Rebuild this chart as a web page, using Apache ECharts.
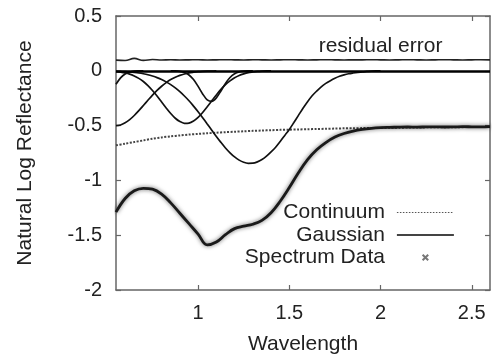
<!DOCTYPE html>
<html>
<head>
<meta charset="utf-8">
<script src="https://cdn.jsdelivr.net/npm/echarts@6/dist/echarts.min.js"></script>
<style>
  html, body { margin: 0; padding: 0; background: #fff; }
  #chart { width: 495px; height: 359px; }
</style>
</head>
<body>
<div id="chart"></div>
<script>
// coarse wavelength grid (spectrum, continuum, residual)
const wavelength = [0.55, 0.6, 0.65, 0.7, 0.75, 0.8, 0.85, 0.9, 0.95, 1.0, 1.05, 1.1, 1.15, 1.2,
  1.25, 1.3, 1.35, 1.4, 1.45, 1.5, 1.55, 1.6, 1.65, 1.7, 1.75, 1.8, 1.85, 1.9, 1.95, 2.0,
  2.05, 2.1, 2.15, 2.2, 2.25, 2.3, 2.35, 2.4, 2.45, 2.5, 2.55, 2.6];
const spectrum = [-1.29, -1.165, -1.095, -1.072, -1.08, -1.125, -1.205, -1.3, -1.395, -1.49,
  -1.588, -1.562, -1.495, -1.44, -1.418, -1.4, -1.365, -1.295, -1.19, -1.065, -0.93, -0.81,
  -0.72, -0.655, -0.605, -0.572, -0.55, -0.535, -0.525, -0.519, -0.516, -0.514, -0.513,
  -0.514, -0.512, -0.511, -0.513, -0.512, -0.51, -0.511, -0.512, -0.51];
const continuum = [-0.68, -0.665, -0.65, -0.635, -0.62, -0.608, -0.598, -0.59, -0.582, -0.576,
  -0.57, -0.565, -0.56, -0.556, -0.552, -0.548, -0.545, -0.542, -0.539, -0.537, -0.535, -0.533,
  -0.531, -0.529, -0.527, -0.525, -0.524, -0.523, -0.522, -0.521, -0.52, -0.519, -0.518,
  -0.517, -0.516, -0.515, -0.515, -0.514, -0.514, -0.513, -0.513, -0.512];
const residual = [0.097, 0.094, 0.113, 0.095, 0.103, 0.099, 0.101, 0.099, 0.1, 0.101, 0.099,
  0.1, 0.101, 0.1, 0.099, 0.101, 0.1, 0.099, 0.1, 0.101, 0.1, 0.099, 0.1, 0.101, 0.1, 0.099,
  0.1, 0.1, 0.101, 0.1, 0.099, 0.1, 0.101, 0.1, 0.099, 0.1, 0.101, 0.1, 0.099, 0.1, 0.101, 0.1];

// fine grid for the gaussian bands
const fineWl = [0.55, 0.575, 0.6, 0.625, 0.65, 0.675, 0.7, 0.725, 0.75, 0.775, 0.8, 0.825,
  0.85, 0.875, 0.9, 0.925, 0.95, 0.975, 1.0, 1.025, 1.05, 1.075, 1.1, 1.125, 1.15, 1.175,
  1.2, 1.225, 1.25, 1.275, 1.3, 1.325, 1.35, 1.375, 1.4, 1.425, 1.45, 1.475, 1.5, 1.525,
  1.55, 1.575, 1.6, 1.625, 1.65, 1.675, 1.7, 1.725, 1.75, 1.775, 1.8, 1.825, 1.85, 1.875,
  1.9, 1.925, 1.95, 1.975, 2.0];
const band0 = [-0.123, -0.065, -0.029, -0.011, -0.003, -0.001, 0];
const band1 = [-0.5, -0.494, -0.475, -0.446, -0.408, -0.364, -0.317, -0.269, -0.222, -0.179,
  -0.141, -0.108, -0.08, -0.059, -0.042, -0.029, -0.019, -0.013, -0.008, -0.005, -0.003,
  -0.002, 0];
const band2 = [-0.007, -0.012, -0.019, -0.03, -0.047, -0.069, -0.098, -0.135, -0.18, -0.23,
  -0.285, -0.339, -0.39, -0.433, -0.463, -0.479, -0.477, -0.458, -0.425, -0.38, -0.328,
  -0.274, -0.22, -0.17, -0.127, -0.092, -0.064, -0.043, -0.028, -0.017, -0.011, -0.006,
  -0.003, -0.001, 0];
const band3 = [-0.004, -0.006, -0.008, -0.011, -0.015, -0.02, -0.027, -0.036, -0.048, -0.062,
  -0.079, -0.101, -0.126, -0.156, -0.19, -0.23, -0.273, -0.322, -0.373, -0.428, -0.485,
  -0.542, -0.599, -0.653, -0.704, -0.748, -0.786, -0.815, -0.835, -0.844, -0.843, -0.831,
  -0.81, -0.779, -0.74, -0.697, -0.645, -0.59, -0.535, -0.472, -0.407, -0.342, -0.282,
  -0.228, -0.185, -0.146, -0.115, -0.09, -0.068, -0.05, -0.037, -0.027, -0.02, -0.014,
  -0.009, -0.006, -0.003, -0.001, 0];
const band4 = [0, -0.001, -0.005, -0.015, -0.038, -0.08, -0.142, -0.211, -0.265, -0.279,
  -0.247, -0.184, -0.115, -0.061, -0.027, -0.01, -0.003, -0.001, 0];
const band4Start = 12; // band4 begins at 0.85 on fineWl

const xTicks = [1, 1.5, 2, 2.5];

const font = "Liberation Sans";
const pairs = (xs, ys, off = 0) => ys.map((y, i) => [xs[i + off], y]);

const frameLine = { lineStyle: { color: "#666", width: 1.5 }, onZero: false };
const innerTick = { inside: true, length: 5, lineStyle: { color: "#666", width: 1.2 } };

const gaussSeries = [band0, band1, band2, band3, band4].map((band, k) => ({
  name: "Gaussian",
  type: "line",
  data: pairs(fineWl, band, k === 4 ? band4Start : 0),
  showSymbol: false,
  symbol: "none",
  smooth: 0.3,
  lineStyle: { color: "#111", width: 1.7 },
  markLine: k === 0 ? {
    silent: true,
    symbol: ["none", "none"],
    label: { show: false },
    lineStyle: { color: "#000", width: 2.6, type: "solid" },
    data: [{ yAxis: 0 }]
  } : undefined
}));

const myChart = echarts.init(document.getElementById("chart"));
myChart.setOption({
  animation: false,
  backgroundColor: "#fff",
  grid: { left: 116, right: 5, top: 16, bottom: 69, containLabel: false, outerBoundsMode: "none" },
  legend: {
    orient: "vertical",
    align: "right",
    right: 40,
    top: 202,
    padding: 0,
    itemGap: 1.5,
    itemWidth: 57,
    itemHeight: 7,
    selectedMode: false,
    textStyle: { fontFamily: font, fontSize: 21, color: "#222", padding: [0, 7, 0, 0] },
    data: [
      { name: "Continuum", itemStyle: { opacity: 0 }, lineStyle: { color: "#555", width: 1.2, type: [1.5, 1.5] } },
      { name: "Gaussian", itemStyle: { opacity: 0 }, lineStyle: { color: "#444", width: 2.2 } },
      { name: "Spectrum Data", lineStyle: { opacity: 0, width: 0 } }
    ]
  },
  xAxis: [
    {
      type: "value", min: 0.55, max: 2.6, position: "bottom",
      axisLine: frameLine,
      axisTick: Object.assign({ customValues: xTicks }, innerTick),
      axisLabel: { customValues: xTicks, fontFamily: font, fontSize: 20, color: "#222", margin: 13 },
      splitLine: { show: false },
      name: "Wavelength", nameLocation: "middle", nameGap: 44,
      nameTextStyle: { fontFamily: font, fontSize: 21, color: "#222" }
    },
    {
      type: "value", min: 0.55, max: 2.6, position: "top",
      axisLine: frameLine,
      axisTick: Object.assign({ customValues: xTicks }, innerTick),
      axisLabel: { show: false },
      splitLine: { show: false }
    }
  ],
  yAxis: [
    {
      type: "value", min: -2, max: 0.5, interval: 0.5, position: "left",
      axisLine: frameLine,
      axisTick: innerTick,
      axisLabel: { fontFamily: font, fontSize: 20, color: "#222", margin: 14 },
      splitLine: { show: false },
      name: "Natural Log Reflectance", nameLocation: "middle", nameGap: 80, nameRotate: 90,
      nameTextStyle: { fontFamily: font, fontSize: 21, color: "#222" }
    },
    {
      type: "value", min: -2, max: 0.5, interval: 0.5, position: "right",
      axisLine: frameLine,
      axisTick: innerTick,
      axisLabel: { show: false },
      splitLine: { show: false }
    }
  ],
  series: [
    {
      name: "residual error",
      type: "line",
      data: pairs(wavelength, residual),
      showSymbol: false,
      symbol: "none",
      smooth: 0.4,
      lineStyle: { color: "#222", width: 1.6 },
      markPoint: {
        silent: true,
        symbol: "circle",
        symbolSize: 1,
        itemStyle: { color: "transparent" },
        label: { show: true, position: "inside", formatter: "residual error", fontFamily: font, fontSize: 21, color: "#222" },
        data: [{ coord: [2.0, 0.226] }]
      }
    },
    {
      name: "Continuum",
      type: "line",
      data: pairs(wavelength, continuum),
      showSymbol: false,
      symbol: "none",
      smooth: 0.3,
      lineStyle: { color: "#444", width: 2, type: [2, 1.5] }
    },
    ...gaussSeries,
    {
      name: "Spectrum Data",
      type: "line",
      data: pairs(wavelength, spectrum),
      showSymbol: false,
      symbol: "path://M0 0L10 10M10 0L0 10",
      smooth: 0.4,
      itemStyle: { color: "transparent", borderColor: "#777", borderWidth: 1 },
      lineStyle: { color: "#1a1a1a", width: 2.8, shadowColor: "rgba(0,0,0,0.6)", shadowBlur: 4 }
    }
  ]
});
</script>
</body>
</html>
